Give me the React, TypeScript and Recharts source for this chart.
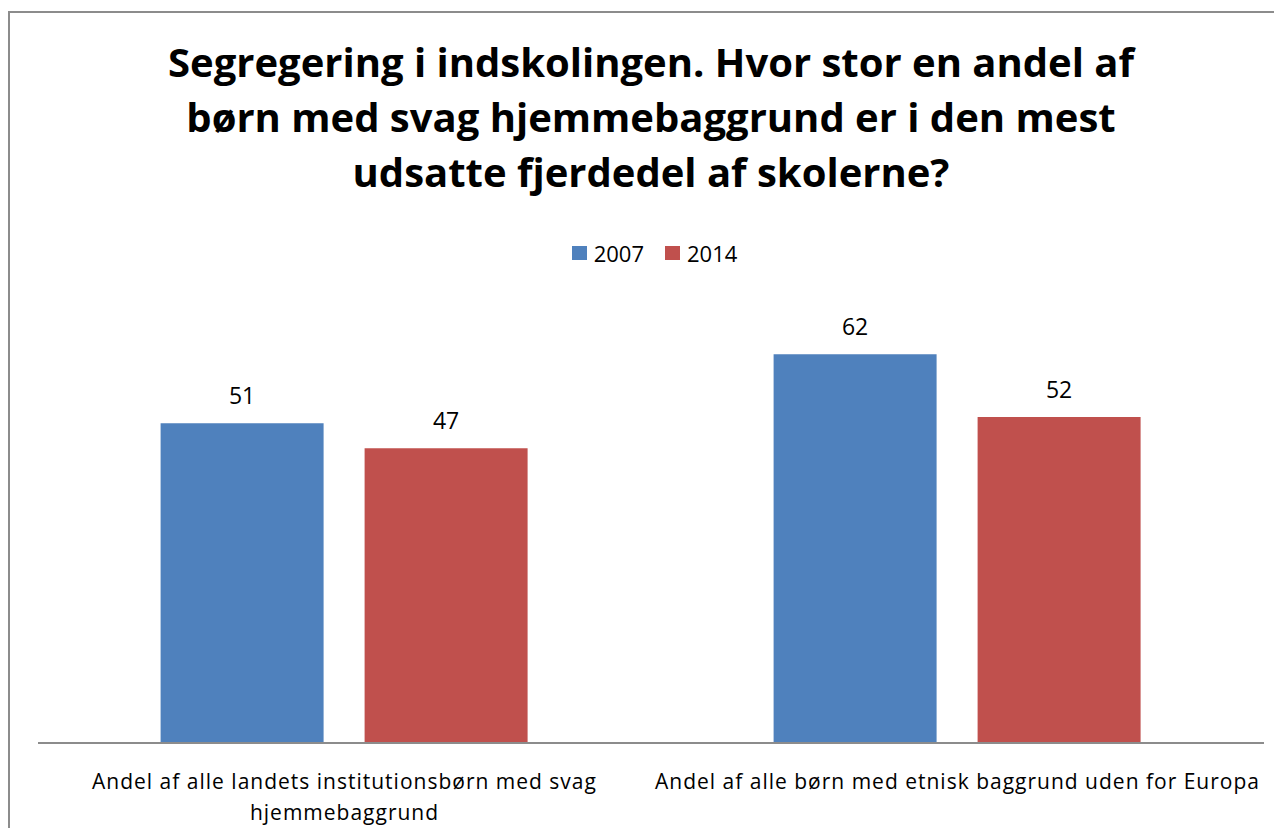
import React from 'react';
import { Bar, BarChart, LabelList, Legend, XAxis, YAxis } from 'recharts';

const categories = [
  'Andel af alle landets institutionsbørn med svag hjemmebaggrund',
  'Andel af alle børn med etnisk baggrund uden for Europa',
];
const values2007 = [51, 62];
const values2014 = [47, 52];
const seriesNames = ['2007', '2014'];
const titleLines = [
  'Segregering i indskolingen. Hvor stor en andel af',
  'børn med svag hjemmebaggrund er i den mest',
  'udsatte fjerdedel af skolerne?',
];

const FONT = '"Open Sans", Lato, sans-serif';
const BLUE = '#4f81bd';
const RED = '#c0504d';
const TICK_SIZE = 21;
const TICK_SPACING = 1;

const chartData = categories.map((name, i) => ({
  name,
  y2007: values2007[i],
  y2014: values2014[i],
}));

let ctx: CanvasRenderingContext2D | null = null;
const measure = (s: string) => {
  if (!ctx) {
    ctx = document.createElement('canvas').getContext('2d');
  }
  if (!ctx) return s.length * TICK_SIZE * 0.5;
  ctx.font = `${TICK_SIZE}px ${FONT}`;
  return ctx.measureText(s).width + s.length * TICK_SPACING;
};

// wrap words to fit the category width
const wrapLabel = (label: string, maxWidth: number) => {
  const words = label.split(' ');
  const lines: string[] = [];
  let current = '';
  words.forEach((w) => {
    const next = current ? `${current} ${w}` : w;
    if (current && measure(next) > maxWidth) {
      lines.push(current);
      current = w;
    } else {
      current = next;
    }
  });
  if (current) lines.push(current);
  return lines;
};

const CategoryTick = (props: any) => {
  const { x, y, payload } = props;
  const lines = wrapLabel(String(payload.value), 613);
  return (
    <text
      x={x}
      y={y + 38}
      textAnchor="middle"
      fontSize={TICK_SIZE}
      letterSpacing={TICK_SPACING}
      fontFamily={FONT}
      fill="#000"
    >
      {lines.map((line, i) => (
        <tspan key={i} x={x} dy={i === 0 ? 0 : 31}>
          {line}
        </tspan>
      ))}
    </text>
  );
};

const LegendContent = (props: any) => {
  const { payload } = props;
  return (
    <div style={{ display: 'flex', justifyContent: 'center', fontFamily: FONT, fontSize: 22 }}>
      {payload.map((item: any) => (
        <div key={item.value} style={{ display: 'flex', alignItems: 'center', marginRight: 21 }}>
          <span
            style={{ width: 15, height: 14, background: item.color, display: 'inline-block', marginRight: 7 }}
          />
          <span>{item.value}</span>
        </div>
      ))}
    </div>
  );
};

export default function App() {
  return (
    <div
      style={{
        position: 'relative',
        margin: -8,
        width: 1282,
        height: 836,
        overflow: 'hidden',
        background: '#fff',
      }}
    >
      <div
        style={{
          position: 'absolute',
          left: 8,
          top: 11,
          width: 1400,
          height: 1000,
          borderTop: '2px solid #8c8c8c',
          borderLeft: '2px solid #8c8c8c',
        }}
      />
      <div
        style={{
          position: 'absolute',
          left: 22,
          top: -28,
          fontFamily: FONT,
          fontWeight: 700,
          fontSize: 22,
        }}
      >
        g
      </div>
      <div
        style={{
          position: 'absolute',
          left: 0,
          top: 34,
          width: 1302,
          textAlign: 'center',
          fontFamily: FONT,
          fontWeight: 700,
          fontSize: 40,
          lineHeight: '55px',
          whiteSpace: 'nowrap',
        }}
      >
        {titleLines.map((line) => (
          <div key={line}>{line}</div>
        ))}
      </div>
      <div style={{ position: 'absolute', left: 0, top: 0 }}>
        <BarChart
          width={1282}
          height={836}
          data={chartData}
          margin={{ top: 274, right: 18, bottom: 0, left: 38 }}
          barCategoryGap="20%"
          barGap={41}
        >
          <XAxis
            dataKey="name"
            axisLine={{ stroke: '#8c8c8c', strokeWidth: 2 }}
            tickLine={false}
            tick={<CategoryTick />}
            interval={0}
            height={93}
          />
          <YAxis hide domain={[0, 70]} />
          <Legend
            verticalAlign="top"
            content={<LegendContent />}
            wrapperStyle={{ top: 238, left: 24, width: 1282 }}
          />
          <Bar dataKey="y2007" name={seriesNames[0]} fill={BLUE} isAnimationActive={false}>
            <LabelList
              dataKey="y2007"
              position="top"
              offset={19}
              fontSize={23}
              fontFamily={FONT}
              fill="#000"
            />
          </Bar>
          <Bar dataKey="y2014" name={seriesNames[1]} fill={RED} isAnimationActive={false}>
            <LabelList
              dataKey="y2014"
              position="top"
              offset={19}
              fontSize={23}
              fontFamily={FONT}
              fill="#000"
            />
          </Bar>
        </BarChart>
      </div>
    </div>
  );
}
